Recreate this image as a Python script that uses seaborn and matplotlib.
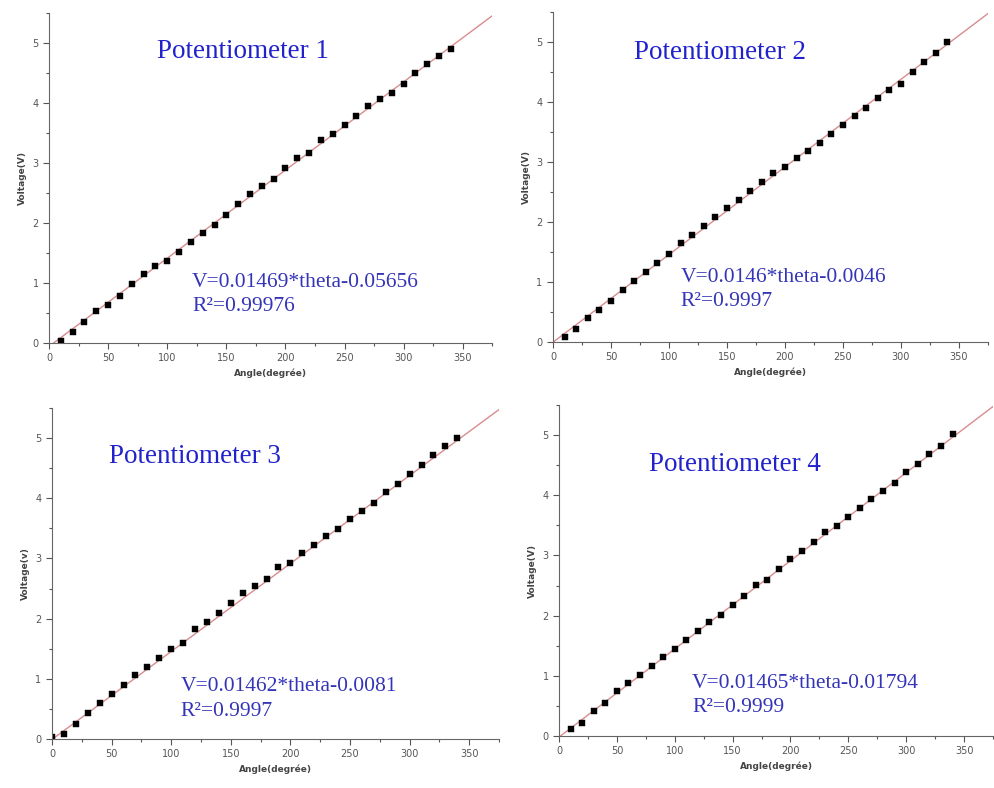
import matplotlib
matplotlib.use("Agg")
import matplotlib.pyplot as plt
from matplotlib.ticker import MultipleLocator
import pandas as pd
import seaborn as sns

# measured angle (deg) and voltage (V) for each potentiometer
angle = list(range(10, 350, 10))
angle_p3 = [0] + angle

volt_p1 = [0.04, 0.19, 0.35, 0.53, 0.64, 0.79, 0.98, 1.15, 1.29, 1.36, 1.51, 1.69,
           1.84, 1.97, 2.13, 2.31, 2.48, 2.61, 2.74, 2.92, 3.08, 3.16, 3.38, 3.48,
           3.64, 3.78, 3.94, 4.07, 4.17, 4.32, 4.49, 4.64, 4.78, 4.89]
volt_p2 = [0.08, 0.22, 0.40, 0.54, 0.69, 0.86, 1.01, 1.16, 1.32, 1.46, 1.65, 1.78,
           1.93, 2.08, 2.24, 2.37, 2.51, 2.66, 2.81, 2.91, 3.07, 3.18, 3.31, 3.46,
           3.61, 3.77, 3.90, 4.06, 4.20, 4.30, 4.49, 4.67, 4.81, 5.00]
volt_p3 = [0.04, 0.09, 0.25, 0.44, 0.59, 0.74, 0.90, 1.06, 1.19, 1.34, 1.50, 1.60,
           1.82, 1.95, 2.10, 2.26, 2.42, 2.55, 2.66, 2.85, 2.93, 3.09, 3.23, 3.38,
           3.49, 3.66, 3.79, 3.92, 4.11, 4.24, 4.41, 4.56, 4.72, 4.87, 5.00]
volt_p4 = [0.12, 0.21, 0.41, 0.55, 0.74, 0.88, 1.01, 1.17, 1.31, 1.45, 1.60, 1.74,
           1.90, 2.01, 2.18, 2.32, 2.51, 2.60, 2.78, 2.94, 3.08, 3.23, 3.39, 3.49,
           3.64, 3.79, 3.94, 4.07, 4.20, 4.39, 4.52, 4.68, 4.82, 5.02]

slopes = [0.01469, 0.0146, 0.01462, 0.01465]
intercepts = [-0.05656, -0.0046, -0.0081, -0.01794]
titles = ["Potentiometer 1", "Potentiometer 2", "Potentiometer 3", "Potentiometer 4"]
equations = ["V=0.01469*theta-0.05656", "V=0.0146*theta-0.0046",
             "V=0.01462*theta-0.0081", "V=0.01465*theta-0.01794"]
r2_labels = ["R²=0.99976", "R²=0.9997", "R²=0.9997", "R²=0.9999"]
ylabels = ["Voltage(V)", "Voltage(V)", "Voltage(v)", "Voltage(V)"]

sns.set_style("ticks")
plt.rcParams["font.family"] = ["DejaVu Sans"]

fig = plt.figure(figsize=(9.94, 7.88), dpi=100)
boxes = [[0.0493, 0.5647, 0.446, 0.419],
         [0.5563, 0.566, 0.4376, 0.419],
         [0.0523, 0.0622, 0.4497, 0.420],
         [0.5624, 0.066, 0.4366, 0.420]]
title_pos = [(164, 4.85), (144, 4.83), (120, 4.69), (152, 4.52)]
eq_pos = [(121, 1.0, 0.6), (110, 1.08, 0.68), (108, 0.87, 0.46), (115, 0.87, 0.47)]

data = [(angle, volt_p1), (angle, volt_p2), (angle_p3, volt_p3), (angle, volt_p4)]
title_blue = "#2222cc"
eq_blue = "#3434b8"

for i in range(4):
    ax = fig.add_axes(boxes[i])
    df = pd.DataFrame({"angle": data[i][0], "volt": data[i][1]})
    ax.axline((0, intercepts[i]), slope=slopes[i], color="#d98c8c", lw=1.0, zorder=1)
    sns.scatterplot(data=df, x="angle", y="volt", ax=ax, marker="s", s=20,
                    color="black", edgecolor="black", linewidth=0.3, zorder=2)
    ax.set_xlim(0, 375)
    ax.set_ylim(0, 5.5)
    ax.xaxis.set_major_locator(MultipleLocator(50))
    ax.xaxis.set_minor_locator(MultipleLocator(25))
    ax.yaxis.set_major_locator(MultipleLocator(1))
    ax.yaxis.set_minor_locator(MultipleLocator(0.5))
    ax.tick_params(which="major", length=4, width=0.8, labelsize=7, colors="#555555")
    ax.tick_params(which="minor", length=2.5, width=0.8, colors="#555555")
    for sp in ["top", "right"]:
        ax.spines[sp].set_visible(False)
    for sp in ["left", "bottom"]:
        ax.spines[sp].set_color("#666666")
    ax.set_xlabel("Angle(degrée)", fontsize=6.5, color="#444444", fontweight="bold")
    ax.set_ylabel(ylabels[i], fontsize=6.5, color="#444444", fontweight="bold")
    ax.text(title_pos[i][0], title_pos[i][1], titles[i], color=title_blue, fontsize=19.5,
            family="Liberation Serif", ha="center", va="center")
    ex, ey1, ey2 = eq_pos[i]
    ax.text(ex, ey1, equations[i], color=eq_blue, fontsize=15.5,
            family="Liberation Serif", ha="left", va="center")
    ax.text(ex, ey2, r2_labels[i], color=eq_blue, fontsize=15.5,
            family="Liberation Serif", ha="left", va="center")

fig.savefig("out.png", dpi=100)
